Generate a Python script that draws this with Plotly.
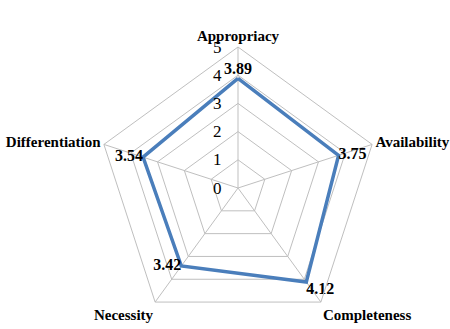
import plotly.graph_objects as go

categories = ["Appropriacy", "Availability", "Completeness", "Necessity", "Differentiation"]
values = [3.89, 3.75, 4.12, 3.42, 3.54]
value_labels = ["3.89", "3.75", "4.12", "3.42", "3.54"]
label_positions = ["top center", "middle right", "bottom right", "middle left", "middle left"]
radial_ticks = [0, 1, 2, 3, 4, 5]

serif = "Liberation Serif"

fig = go.Figure()
fig.add_trace(go.Scatterpolar(
    r=values + values[:1],
    theta=categories + categories[:1],
    mode="lines",
    line=dict(color="#4A7EBB", width=3.5),
    hoverinfo="skip",
    showlegend=False,
))
fig.add_trace(go.Scatterpolar(
    r=values,
    theta=categories,
    mode="text",
    text=value_labels,
    textposition=label_positions,
    textfont=dict(family=serif, size=16, color="black", weight="bold"),
    showlegend=False,
))

fig.update_layout(
    width=450, height=329,
    margin=dict(l=0, r=0, t=0, b=0),
    paper_bgcolor="white",
    plot_bgcolor="white",
    polar=dict(
        domain=dict(x=[97/450, 379/450], y=[0, 282/329]),
        gridshape="linear",
        bgcolor="white",
        angularaxis=dict(
            rotation=90, direction="clockwise",
            categoryorder="array", categoryarray=categories,
            showgrid=True, gridcolor="#BFBFBF", gridwidth=1,
            showline=True, linecolor="#BFBFBF", linewidth=1,
            ticks="",
            tickfont=dict(family=serif, size=15, color="black", weight="bold"),
        ),
        radialaxis=dict(
            range=[0, 5], tickvals=radial_ticks,
            ticktext=[str(t) for t in radial_ticks],
            angle=90, tickangle=90, side="counterclockwise",
            showgrid=True, gridcolor="#BFBFBF", gridwidth=1,
            showline=False, ticks="outside", ticklen=10, tickcolor="rgba(0,0,0,0)",
            tickfont=dict(family=serif, size=17, color="black"),
        ),
    ),
)

fig.write_html("out.html")
